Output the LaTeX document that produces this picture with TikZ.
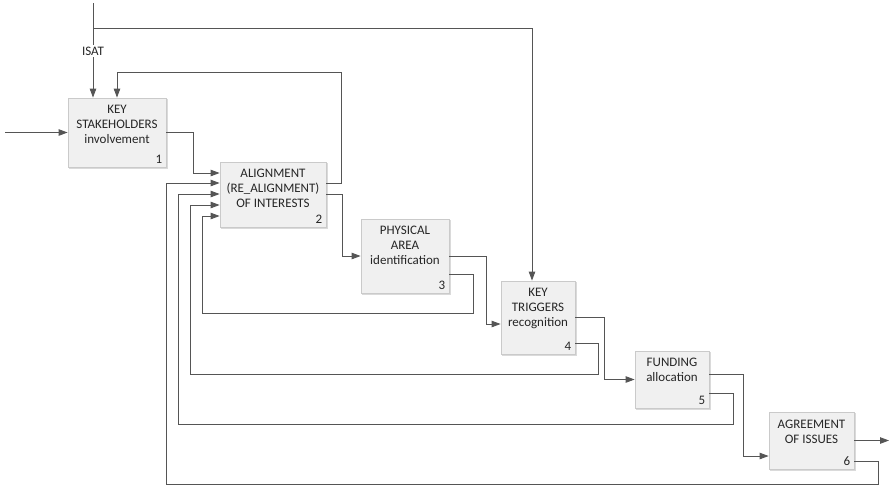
\documentclass[tikz,border=0pt]{standalone}
\usepackage{fontspec}
\setmainfont{Carlito}
\usetikzlibrary{arrows.meta,calc}
\definecolor{boxfill}{HTML}{F0F0F0}
\definecolor{boxline}{HTML}{CACACA}
\definecolor{boxshade}{HTML}{DADADA}
\definecolor{wire}{HTML}{555555}
\definecolor{ink}{HTML}{262626}
\begin{document}
\begin{tikzpicture}[x=1pt,y=-1pt,
  blk/.style={draw=boxline, fill=boxfill, line width=0.8pt, inner sep=0pt,
    preaction={draw=boxshade, line width=1pt, transform canvas={shift={(1pt,-1pt)}}}},
  lbl/.style={anchor=base, align=center, font=\fontsize{13}{15}\selectfont, inner sep=0pt, text=ink},
  num/.style={anchor=base east, font=\fontsize{13}{15}\selectfont, inner sep=0pt, text=ink},
  wireline/.style={draw=wire, line width=0.9pt},
  arr/.style={wireline, -{Triangle[length=9pt,width=6.5pt]}},
]
\useasboundingbox (0,0) rectangle (889,488);

% activity boxes
\node[blk, minimum width=98pt, minimum height=69pt] (b1) at (117,132.5) {};
\node[blk, minimum width=106pt, minimum height=65pt] (b2) at (273,194.5) {};
\node[blk, minimum width=88pt, minimum height=74pt] (b3) at (405,256) {};
\node[blk, minimum width=74pt, minimum height=73pt] (b4) at (538,317.5) {};
\node[blk, minimum width=74pt, minimum height=57pt] (b5) at (672,379.5) {};
\node[blk, minimum width=85pt, minimum height=57pt] (b6) at (811.5,440.5) {};

% box titles (anchored on the baseline of their last line)
\node[lbl] (t1) at ($(b1.north)+(0,45.5)$) {KEY\\STAKEHOLDERS\\involvement};
\node[lbl] (t2) at ($(b2.north)+(0,45.5)$) {ALIGNMENT\\(RE\_ALIGNMENT)\\OF INTERESTS};
\node[lbl] (t3) at ($(b3.north)+(0,46)$) {PHYSICAL\\AREA\\identification};
\node[lbl] (t4) at ($(b4.north)+(0,46)$) {KEY\\TRIGGERS\\recognition};
\node[lbl] (t5) at ($(b5.north)+(0,31)$) {FUNDING\\allocation};
\node[lbl] (t6) at ($(b6.north)+(0,31.5)$) {AGREEMENT\\OF ISSUES};

% box numbers
\node[num] (n1) at ($(b1.south east)+(-4,-4)$) {1};
\node[num] (n2) at ($(b2.south east)+(-4,-4)$) {2};
\node[num] (n3) at ($(b3.south east)+(-4,-4)$) {3};
\node[num] (n4) at ($(b4.south east)+(-4,-4)$) {4};
\node[num] (n5) at ($(b5.south east)+(-4,-4)$) {5};
\node[num] (n6) at ($(b6.south east)+(-4,-4)$) {6};

% external input, control and output
\coordinate (in) at (5,132.5);
\coordinate (out) at (889,440.5);
\coordinate (top) at (93,3);
\coordinate (br) at (93,28);
\node[font=\fontsize{13}{15}\selectfont, inner sep=2pt, text=ink] (isat) at (93,51) {ISAT};

\draw[arr] (in) -- (b1.west);
\draw[wireline] (top) -- (isat);
\draw[arr] (isat) -- (b1.north -| isat);
\draw[arr] (br) -| ($(b4.north)+(-6,0)$);
\draw[arr] (b6.east) -- (out);

% forward flow
\draw[arr] (b1.east) -- ++(27,0) |- ($(b2.west)+(0,-21.5)$);
\draw[arr] (b2.east) -- ++(16,0) |- (b3.west);
\draw[arr] (b3.east) -- ++(37,0) |- ($(b4.west)+(0,6.5)$);
\draw[arr] (b4.east) -- ++(29,0) |- (b5.west);
\draw[arr] ($(b5.east)+(0,-5.5)$) -- ++(34,0) |- ($(b6.west)+(0,15.5)$);

% feedback loops
\draw[arr] ($(b2.east)+(0,-11.5)$) -- ++(15,0) |- ($(b1.north)+(0,-25)$) -- (b1.north);
\draw[arr] ($(b3.east)+(0,18)$) -- ++(24,0) -- ++(0,39) -| ($(b2.west)+(-17,21.5)$) -- ($(b2.west)+(0,21.5)$);
\draw[arr] ($(b4.east)+(0,25.5)$) -- ++(23,0) -- ++(0,31) -| ($(b2.west)+(-29,10.5)$) -- ($(b2.west)+(0,10.5)$);
\draw[arr] ($(b5.east)+(0,13.5)$) -- ++(24,0) -- ++(0,31.5) -| ($(b2.west)+(-41,-0.5)$) -- ($(b2.west)+(0,-0.5)$);
\draw[arr] ($(b6.east)+(0,20.5)$) -- ++(24,0) -- ++(0,23.5) -| ($(b2.west)+(-53,-11.5)$) -- ($(b2.west)+(0,-11.5)$);
\end{tikzpicture}
\end{document}
